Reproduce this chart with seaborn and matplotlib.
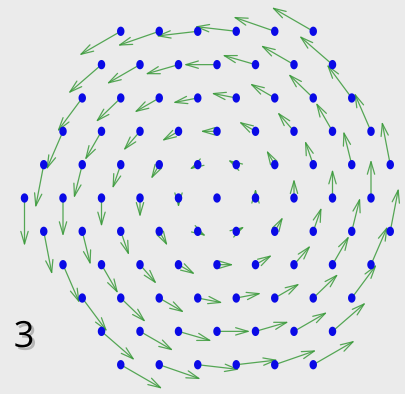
import numpy as np
import pandas as pd
import matplotlib
matplotlib.use("Agg")
import matplotlib.pyplot as plt
import matplotlib.patheffects as pe
from matplotlib.path import Path
import seaborn as sns

# Hexagonal lattice rows (row index, half-width of the row in lattice units)
row_index = [-5, -4, -3, -2, -1, 0, 1, 2, 3, 4, 5]
row_halfwidth = [2.5, 3.0, 3.5, 4.0, 4.5, 5.0, 4.5, 4.0, 3.5, 3.0, 2.5]
row_step = np.sqrt(3) / 2
# angular rate of the rotating field: velocity = spin * (-y, x)
spin = 0.25
panel_label = "3"

xs, ys = [], []
for k, hw in zip(row_index, row_halfwidth):
    for x in np.arange(-hw, hw + 0.01, 1.0):
        xs.append(x)
        ys.append(-k * row_step)
df = pd.DataFrame({"x": xs, "y": ys})
df["u"] = -spin * df["y"]
df["v"] = spin * df["x"]

sns.set_theme(style="white")
fig = plt.figure(figsize=(4.05, 3.94), dpi=100)
fig.patch.set_facecolor("#ebebeb")
ax = fig.add_axes([0, 0, 1, 1])
ax.set_facecolor("#ebebeb")

scale = 38.5  # pixels per lattice unit
ax.set_xlim(-217 / scale, 188 / scale)
ax.set_ylim(-(394 - 198) / scale, 198 / scale)
ax.set_aspect("equal")
ax.axis("off")

for _, r in df.iterrows():
    if abs(r.u) + abs(r.v) < 1e-9:
        continue
    ax.annotate(
        "", xy=(r.x + r.u, r.y + r.v), xytext=(r.x, r.y),
        arrowprops=dict(arrowstyle="->,head_length=0.75,head_width=0.22",
                        color="#3a9a3a", lw=0.9, alpha=0.85,
                        shrinkA=0, shrinkB=0),
        zorder=2,
    )

# slightly tall oval dots
t = np.linspace(0, 2 * np.pi, 40)
oval = Path(np.column_stack([0.8 * np.cos(t), np.sin(t)]))
sns.scatterplot(data=df, x="x", y="y", ax=ax, marker=oval, s=45,
                color="#0a0ae6", edgecolor="none", zorder=3, legend=False)
ax.axis("off")

fig.text(24 / 405, 1 - 347 / 394, panel_label, fontsize=26, family="Open Sans",
         ha="center", va="baseline", color="black",
         path_effects=[pe.withSimplePatchShadow(offset=(2, -2),
                                                shadow_rgbFace="#555555",
                                                alpha=0.35)])

fig.savefig("out.png", dpi=100, facecolor=fig.get_facecolor())
